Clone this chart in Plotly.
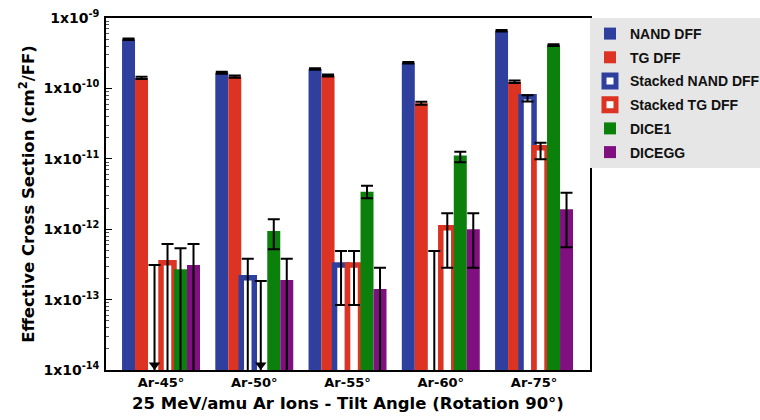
import plotly.graph_objects as go

categories = ["Ar-45°", "Ar-50°", "Ar-55°", "Ar-60°", "Ar-75°"]
series_names = ["NAND DFF", "TG DFF", "Stacked NAND DFF", "Stacked TG DFF", "DICE1", "DICEGG"]

OFF = 1e-16  # lower bound that lies below the axis floor

nand = [4.98e-10, 1.67e-10, 1.89e-10, 2.32e-10, 6.6e-10]
nand_hi = [5.1e-10, 1.72e-10, 1.94e-10, 2.38e-10, 6.75e-10]
nand_lo = [4.85e-10, 1.62e-10, 1.84e-10, 2.26e-10, 6.45e-10]

tg = [1.41e-10, 1.47e-10, 1.53e-10, 6.14e-11, 1.245e-10]
tg_hi = [1.46e-10, 1.52e-10, 1.58e-10, 6.45e-11, 1.3e-10]
tg_lo = [1.36e-10, 1.42e-10, 1.48e-10, 5.85e-11, 1.19e-10]

stk_nand = [None, 2.05e-13, 3.1e-13, None, 7.6e-11]
stk_nand_hi = [None, 3.81e-13, 4.9e-13, None, 8.0e-11]
stk_nand_lo = [None, OFF, 8.4e-14, None, 6.5e-11]
stk_nand_ul = [3.1e-13, None, None, 4.9e-13, None]
stk_nand_arrow = [True, False, False, False, False]

stk_tg = [3.34e-13, None, 3.1e-13, 1.05e-12, 1.44e-11]
stk_tg_hi = [6.16e-13, None, 4.9e-13, 1.68e-12, 1.69e-11]
stk_tg_lo = [OFF, None, 8.4e-14, 2.84e-13, 9.84e-12]
stk_tg_ul = [None, 1.84e-13, None, None, None]
stk_tg_arrow = [False, True, False, False, False]

dice1 = [2.69e-13, 9.42e-13, 3.41e-12, 1.11e-11, 4.13e-10]
dice1_hi = [5.35e-13, 1.38e-12, 4.15e-12, 1.26e-11, 4.25e-10]
dice1_lo = [OFF, 5.18e-13, 2.75e-12, 8.9e-12, 4.0e-10]

dicegg = [3.1e-13, 1.9e-13, 1.42e-13, 9.96e-13, 1.92e-12]
dicegg_hi = [6.16e-13, 3.81e-13, 2.84e-13, 1.68e-12, 3.3e-12]
dicegg_lo = [OFF, OFF, OFF, 2.84e-13, 5.53e-13]

none5 = [None] * 5
nofl5 = [False] * 5

y_tickvals = [1e-14, 1e-13, 1e-12, 1e-11, 1e-10, 1e-9]
y_ticktext = ["1x10<sup>-14</sup>", "1x10<sup>-13</sup>", "1x10<sup>-12</sup>",
              "1x10<sup>-11</sup>", "1x10<sup>-10</sup>", "1x10<sup>-9</sup>"]
ARROW_Y = 1.18e-14

BLUE = "#2f3f9e"
RED = "#dc3322"
GREEN = "#0b800b"
PURPLE = "#80107f"

series = [
    dict(name=series_names[0], v=nand, hi=nand_hi, lo=nand_lo, color=BLUE, hollow=False, ul=none5, arrow=nofl5),
    dict(name=series_names[1], v=tg, hi=tg_hi, lo=tg_lo, color=RED, hollow=False, ul=none5, arrow=nofl5),
    dict(name=series_names[2], v=stk_nand, hi=stk_nand_hi, lo=stk_nand_lo, color=BLUE, hollow=True, ul=stk_nand_ul, arrow=stk_nand_arrow),
    dict(name=series_names[3], v=stk_tg, hi=stk_tg_hi, lo=stk_tg_lo, color=RED, hollow=True, ul=stk_tg_ul, arrow=stk_tg_arrow),
    dict(name=series_names[4], v=dice1, hi=dice1_hi, lo=dice1_lo, color=GREEN, hollow=False, ul=none5, arrow=nofl5),
    dict(name=series_names[5], v=dicegg, hi=dicegg_hi, lo=dicegg_lo, color=PURPLE, hollow=False, ul=none5, arrow=nofl5),
]

FONT = "Liberation Sans, Arial, Helvetica, sans-serif"
WIDE = "DejaVu Sans, Verdana, sans-serif"

fig = go.Figure()
for i, s in enumerate(series):
    plus = [None if v is None else h - v for v, h in zip(s["v"], s["hi"])]
    minus = [None if v is None else v - l for v, l in zip(s["v"], s["lo"])]
    if s["hollow"]:
        marker = dict(color="white", line=dict(color=s["color"], width=5.5))
    else:
        marker = dict(color=s["color"], line=dict(width=0))
    fig.add_trace(go.Bar(
        x=categories, y=s["v"], name=s["name"], marker=marker,
        offsetgroup=str(i), legendgroup=str(i),
        error_y=dict(type="data", symmetric=False, array=plus, arrayminus=minus,
                     color="black", thickness=2, width=6),
    ))

# upper limits (line from the limit down past the axis floor), and arrow heads
for i, s in enumerate(series):
    ul_minus = [None if u is None else u - OFF for u in s["ul"]]
    fig.add_trace(go.Scatter(
        x=categories, y=s["ul"], mode="markers", offsetgroup=str(i),
        marker=dict(size=1, opacity=0), showlegend=False, hoverinfo="skip",
        error_y=dict(type="data", symmetric=False, array=[0] * 5, arrayminus=ul_minus,
                     color="black", thickness=2, width=6),
    ))
for i, s in enumerate(series):
    ay = [ARROW_Y if a else None for a in s["arrow"]]
    fig.add_trace(go.Scatter(
        x=categories, y=ay, mode="markers", offsetgroup=str(i),
        marker=dict(symbol="triangle-down", size=10, color="black"),
        showlegend=False, hoverinfo="skip",
    ))

fig.update_layout(
    width=760, height=420,
    margin=dict(l=106, r=170, t=18, b=50, autoexpand=False),
    paper_bgcolor="white", plot_bgcolor="white",
    barmode="group", bargap=0.164, bargroupgap=0,
    scattermode="group", scattergap=0.164,
    font=dict(family=FONT, color="black", size=14, weight="bold"),
    showlegend=True,
    legend=dict(x=1.0, y=1.0, xanchor="left", yanchor="top",
                bgcolor="#e6e6e6", borderwidth=0, tracegroupgap=2.5,
                font=dict(family=FONT, size=14, color="#111111", weight="bold")),
    xaxis=dict(type="category", range=[-0.59, 4.6], showline=True, linecolor="black",
               linewidth=1.5, mirror=True, ticks="", showgrid=False,
               tickfont=dict(family=WIDE, size=13, weight="bold"),
               title=dict(text="25 MeV/amu Ar Ions - Tilt Angle (Rotation 90°)",
                          font=dict(family=WIDE, size=16.5, weight="bold"), standoff=8)),
    yaxis=dict(type="log", range=[-14, -9], showline=True, linecolor="black",
               linewidth=1.5, mirror=True, showgrid=False, zeroline=False,
               tickmode="array", tickvals=y_tickvals, ticktext=y_ticktext,
               ticks="inside", ticklen=6, tickcolor="black", ticklabelstandoff=2,
               tickfont=dict(family=WIDE, size=14, weight="bold"),
               minor=dict(ticks="inside", ticklen=3, tickcolor="#555555", dtick="D1", showgrid=False),
               title=dict(text="Effective Cross Section (cm<sup>2</sup>/FF)",
                          font=dict(family=WIDE, size=16.5, weight="bold"), standoff=5)),
)

fig.write_html("out.html", config={"displayModeBar": False},
               post_script="document.body.style.margin='0px';")
